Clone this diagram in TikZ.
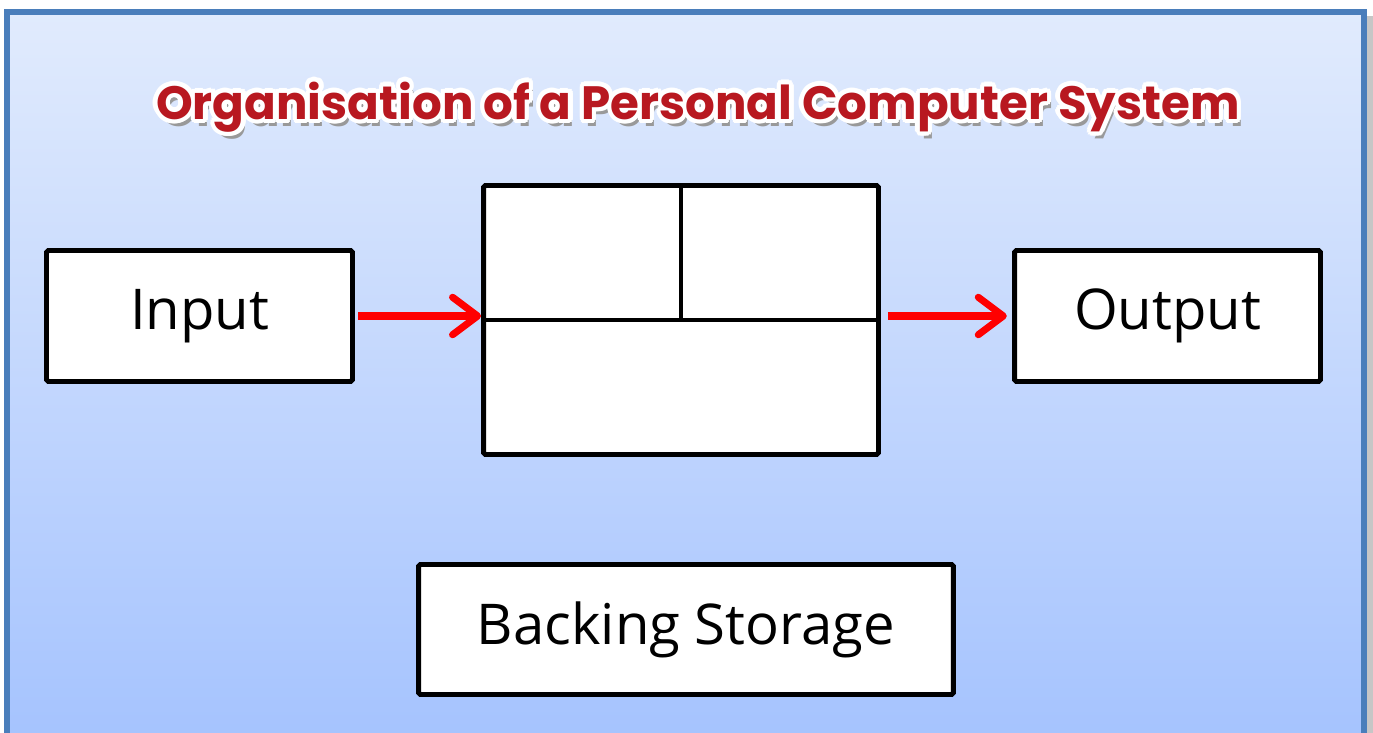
\documentclass[tikz,border=0pt]{standalone}
\usepackage{fontspec}
\setmainfont{Open Sans}
\newfontfamily\titlefont{Poppins}
\usepackage[copies]{contour}
\usetikzlibrary{positioning, arrows.meta}
\definecolor{frameblue}{HTML}{4A7EBB}
\definecolor{skytop}{HTML}{E1EBFD}
\definecolor{skybot}{HTML}{A5C3FE}
\definecolor{titlered}{HTML}{B81820}
\contourlength{2.5pt}
\contournumber{16}
\tikzstyle{unit} = [rectangle, rounded corners=1pt, draw=black, fill=white, line width=2.8pt, text centered, font=\fontsize{32}{38}\selectfont]
\tikzstyle{arrow} = [draw=red, line width=4pt, -{Straight Barb[length=0.5cm, width=0.75cm, round]}]
\tikzstyle{divider} = [line width=2.8pt]
\tikzstyle{heading} = [font=\titlefont\bfseries\fontsize{26.6}{32}\selectfont]
\begin{document}
\begin{tikzpicture}[x=0.02cm, y=-0.02cm]
	\useasboundingbox (0,0) rectangle (1373,733);
	% background panel
	\fill[gray!45] (1362,16) rectangle (1373,745);
	\shade[top color=skytop, bottom color=skybot, draw=frameblue, line width=3pt] (7,12) rectangle (1364,742);
	% title
	\node (shadow) [heading, text=black!40] at (702,114) {Organisation of a Personal Computer System};
	\node (title) [heading] at (698,109) {\contour{white}{\textcolor{titlered}{Organisation of a Personal Computer System}}};
	% units
	\node (input) [unit, minimum width=6.12cm, minimum height=2.62cm] at (199.5,316) {Input};
	\node (cpu) [unit, minimum width=7.9cm, minimum height=5.38cm] at (681,320) {};
	\node (output) [unit, minimum width=6.12cm, minimum height=2.62cm] at (1167.5,316) {Output};
	\node (storage) [unit, minimum width=10.7cm, minimum height=2.6cm] at (686,629.5) {Backing Storage};
	\draw [divider] (cpu.west) -- (cpu.east);
	\draw [divider] (cpu.north) -- (cpu.center);
	\draw [arrow] ([xshift=2pt]input.east) -- (input.east -| cpu.west);
	\draw [arrow] ([xshift=4pt]cpu.east |- output.west) -- ([xshift=-3pt]output.west);
\end{tikzpicture}
\end{document}
